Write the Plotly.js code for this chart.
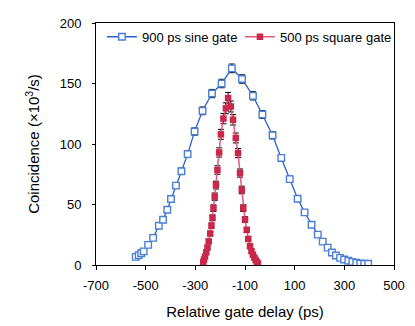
<!DOCTYPE html>
<html>
<head>
<meta charset="utf-8">
<script src="https://cdn.plot.ly/plotly-3.0.1.min.js"></script>
<style>
  html, body { margin: 0; padding: 0; background: #fff; }
  #chart { width: 415px; height: 326px; }
</style>
</head>
<body>
<div id="chart"></div>
<script>
// 900 ps sine gate
var sineDelay = [-540, -528, -518, -508, -490, -470, -447, -430, -413, -398,
    -378, -356, -331, -303, -271, -233, -194, -153, -112, -68,
    -30, 11, 46, 80, 112, 140, 168, 193, 213, 233,
    250, 266, 283, 299, 316, 332, 348, 364, 380, 396];
var sineCoinc = [6.7, 8.1, 9.7, 11.3, 16.6, 22.4, 32.5, 37.4, 45.7, 54.5,
    65.6, 77.5, 91.6, 110.3, 127.4, 141.7, 150, 162.5, 153.7, 139.8,
    124.4, 107.2, 88.5, 71, 54.7, 43.5, 33.3, 25.1, 19.3, 14.4,
    10.3, 7.8, 5.9, 4.5, 3.5, 2.6, 1.8, 1.2, 1.0, 1.0];
var sineErr = [0.8, 0.9, 1, 1, 1.2, 1.4, 1.7, 1.8, 2, 2.2,
    2.4, 2.6, 2.8, 3, 3.2, 3.4, 3.5, 3.6, 3.5, 3.4,
    3.2, 3, 2.8, 2.5, 2.2, 2, 1.7, 1.5, 1.3, 1.1,
    1, 0.9, 0.8, 0.7, 0.6, 0.5, 0.4, 0.3, 0.3, 0.3];

// 500 ps square gate
var squareDelay = [-268, -265, -261, -256, -251, -246, -240, -235, -231, -227,
    -222, -217, -211, -204, -197, -187, -177, -168, -157, -148,
    -137, -128, -120, -113, -107, -100, -93, -87, -80, -74,
    -68, -62, -57, -52, -48];
var squareCoinc = [2.5, 4.5, 7, 10.5, 14.5, 19.5, 26, 32.5, 39, 47,
    56.5, 66, 78.5, 93, 108, 121, 129.5, 138, 131, 120,
    105, 92.5, 76, 62, 47, 37.5, 29, 21.5, 15.5, 11.5,
    8.5, 6, 4, 2.5, 1.2];
var squareErr = [0.5, 0.7, 0.9, 1.1, 1.3, 1.6, 1.9, 2.2, 2.4, 2.7,
    3, 3.2, 3.5, 3.8, 4.1, 4.3, 4.5, 4.6, 4.5, 4.3,
    4.1, 3.8, 3.4, 3.1, 2.7, 2.4, 2.1, 1.8, 1.5, 1.3,
    1.1, 0.9, 0.7, 0.5, 0.4];

var xTicks = [-700, -500, -300, -100, 100, 300, 500];
var xTickText = ['-700', '-500', '-300', '-100', '100', '300', '500'];
var yTicks = [0, 50, 100, 150, 200];

var font = 'Liberation Sans, Arial, sans-serif';

var sine = {
    x: sineDelay,
    y: sineCoinc,
    error_y: { type: 'data', array: sineErr, color: '#000', thickness: 1, width: 3 },
    type: 'scatter',
    mode: 'lines+markers',
    name: '900 ps sine gate',
    line: { color: '#2a62c8', width: 1.3 },
    marker: { symbol: 'square', size: 6.5, color: '#fff', line: { color: '#4a7ed8', width: 1.4 } },
    legend: 'legend'
};

var square = {
    x: squareDelay,
    y: squareCoinc,
    error_y: { type: 'data', array: squareErr, color: '#000', thickness: 1, width: 3 },
    type: 'scatter',
    mode: 'lines+markers',
    name: '500 ps square gate',
    line: { color: '#e05a78', width: 1.5 },
    marker: { symbol: 'square', size: 6.5, color: '#c9284b' },
    legend: 'legend2'
};

var layout = {
    width: 415,
    height: 326,
    margin: { l: 96, r: 21, t: 23, b: 60.5, autoexpand: false },
    paper_bgcolor: '#fff',
    plot_bgcolor: '#fff',
    font: { family: font, size: 13, color: '#000' },
    xaxis: {
        range: [-700, 500],
        tickvals: xTicks,
        ticktext: xTickText,
        ticks: 'outside',
        ticklen: 4,
        tickcolor: '#000',
        ticklabelstandoff: 4,
        showgrid: false,
        zeroline: false,
        showline: true,
        linecolor: '#000',
        linewidth: 1,
        mirror: true,
        title: { text: 'Relative gate delay (ps)', font: { size: 15 }, standoff: 14 }
    },
    xaxis2: {
        range: [-700, 500],
        overlaying: 'x',
        anchor: 'y',
        side: 'bottom',
        tickvals: xTicks,
        ticks: 'inside',
        ticklen: 4,
        tickcolor: '#000',
        showticklabels: false,
        showgrid: false,
        zeroline: false
    },
    yaxis: {
        range: [0, 200],
        tickvals: yTicks,
        ticks: 'outside',
        ticklen: 3,
        tickcolor: '#000',
        ticklabelstandoff: 8,
        showgrid: false,
        zeroline: false,
        showline: true,
        linecolor: '#000',
        linewidth: 1,
        mirror: true,
        title: { text: 'Coincidence (×10<sup>3</sup>/s)', font: { size: 15 }, standoff: 16 }
    },
    legend: {
        x: 0.02, y: 1.005, xanchor: 'left', yanchor: 'top',
        bgcolor: 'rgba(0,0,0,0)',
        font: { size: 13 }
    },
    legend2: {
        x: 0.483, y: 1.005, xanchor: 'left', yanchor: 'top',
        bgcolor: 'rgba(0,0,0,0)',
        font: { size: 13 }
    },
    showlegend: true
};

Plotly.newPlot('chart', [sine, square], layout, { displayModeBar: false, staticPlot: true });
</script>
</body>
</html>
